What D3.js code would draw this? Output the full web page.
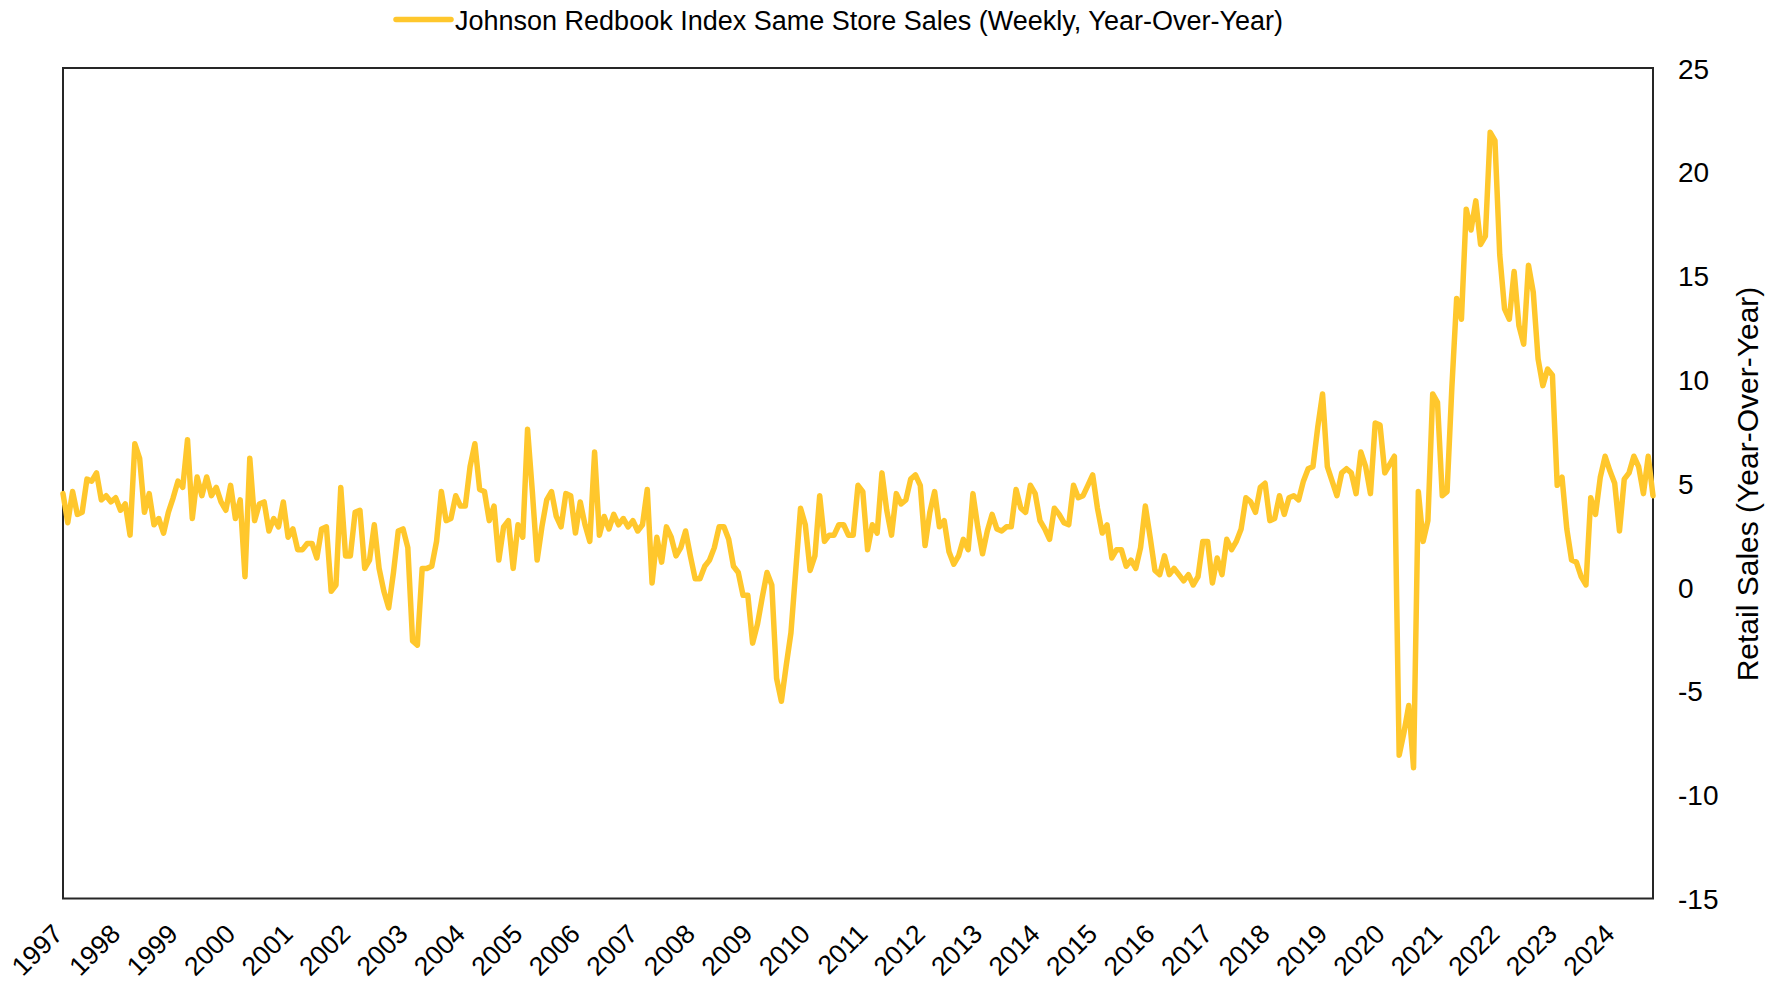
<!DOCTYPE html>
<html>
<head>
<meta charset="utf-8">
<script src="https://cdn.jsdelivr.net/npm/d3@7"></script>
<style>
  html, body { margin: 0; padding: 0; background: #ffffff; }
  svg { display: block; font-family: "Liberation Sans", Arial, Helvetica, sans-serif; }
</style>
</head>
<body>
<svg id="chart" width="1770" height="984"></svg>
<script>
// Monthly readings of the Johnson Redbook same-store sales index (YoY %), Jan 1997 onward
const seriesName = "Johnson Redbook Index Same Store Sales (Weekly, Year-Over-Year)";
const yearLabels = ["1997","1998","1999","2000","2001","2002","2003","2004","2005","2006",
  "2007","2008","2009","2010","2011","2012","2013","2014","2015","2016",
  "2017","2018","2019","2020","2021","2022","2023","2024"];
const yTickValues = [-15, -10, -5, 0, 5, 10, 15, 20, 25];
const yTitle = "Retail Sales (Year-Over-Year)";

const salesYoY = [
  4.5, 3.1, 4.6, 3.5, 3.6, 5.2, 5.1, 5.5, 4.2, 4.4, 4.1, 4.3,      // 1997
  3.7, 4.0, 2.5, 6.9, 6.2, 3.6, 4.5, 3.0, 3.3, 2.6, 3.6, 4.3,      // 1998
  5.1, 4.8, 7.1, 3.3, 5.3, 4.4, 5.3, 4.4, 4.8, 4.1, 3.7, 4.9,      // 1999
  3.3, 4.2, 0.5, 6.2, 3.2, 4.0, 4.1, 2.7, 3.3, 2.9, 4.1, 2.4,      // 2000
  2.8, 1.8, 1.8, 2.1, 2.1, 1.4, 2.8, 2.9, -0.2, 0.1, 4.8, 1.5,     // 2001
  1.5, 3.6, 3.7, 0.9, 1.3, 3.0, 0.9, -0.2, -1.0, 0.7, 2.7, 2.8,    // 2002
  1.9, -2.6, -2.8, 0.9, 0.9, 1.0, 2.2, 4.6, 3.2, 3.3, 4.4, 3.9,    // 2003
  3.9, 5.8, 6.9, 4.7, 4.6, 3.2, 3.9, 1.3, 2.9, 3.2, 0.9, 3.0,      // 2004
  2.4, 7.6, 4.6, 1.3, 2.9, 4.2, 4.6, 3.4, 2.9, 4.5, 4.4, 2.6,      // 2005
  4.1, 3.0, 2.2, 6.5, 2.5, 3.4, 2.8, 3.5, 3.0, 3.3, 2.9, 3.2,      // 2006
  2.7, 3.0, 4.7, 0.2, 2.4, 1.2, 2.9, 2.4, 1.5, 1.9, 2.7, 1.5,      // 2007
  0.4, 0.4, 1.0, 1.3, 1.9, 2.9, 2.9, 2.3, 1.0, 0.7, -0.4, -0.4,    // 2008
  -2.7, -1.8, -0.5, 0.7, 0.1, -4.4, -5.5, -3.8, -2.2, 0.8, 3.8, 3.0, // 2009
  0.8, 1.5, 4.4, 2.2, 2.5, 2.5, 3.0, 3.0, 2.5, 2.5, 4.9, 4.6,      // 2010
  1.8, 3.0, 2.6, 5.5, 3.7, 2.5, 4.5, 4.0, 4.2, 5.2, 5.4, 4.9,      // 2011
  2.0, 3.6, 4.6, 2.9, 3.2, 1.7, 1.1, 1.5, 2.3, 1.8, 4.5, 2.9,      // 2012
  1.6, 2.7, 3.5, 2.8, 2.7, 2.9, 2.9, 4.7, 3.8, 3.6, 4.9, 4.5,      // 2013
  3.2, 2.8, 2.3, 3.8, 3.5, 3.1, 3.0, 4.9, 4.3, 4.4, 4.9, 5.4,      // 2014
  3.8, 2.6, 3.0, 1.4, 1.8, 1.8, 1.0, 1.3, 0.9, 1.9, 3.9, 2.4,      // 2015
  0.8, 0.6, 1.5, 0.6, 0.9, 0.6, 0.3, 0.6, 0.1, 0.5, 2.2, 2.2,      // 2016
  0.2, 1.4, 0.6, 2.3, 1.8, 2.2, 2.8, 4.3, 4.1, 3.6, 4.8, 5.0,      // 2017
  3.2, 3.3, 4.4, 3.5, 4.3, 4.4, 4.2, 5.1, 5.7, 5.8, 7.7, 9.3,      // 2018
  5.8, 5.1, 4.4, 5.5, 5.7, 5.5, 4.5, 6.5, 5.8, 4.5, 7.9, 7.8,      // 2019
  5.5, 5.9, 6.3, -8.1, -7.0, -5.7, -8.7, 4.6, 2.2, 3.2, 9.3, 8.9,  // 2020
  4.4, 4.6, 9.6, 13.9, 12.9, 18.2, 17.2, 18.6, 16.5, 16.9, 21.9, 21.5, // 2021
  16.0, 13.4, 12.9, 15.2, 12.6, 11.7, 15.5, 14.2, 11.0, 9.7, 10.5, 10.2, // 2022
  4.9, 5.3, 2.8, 1.3, 1.2, 0.5, 0.1, 4.3, 3.5, 5.3, 6.3, 5.6,      // 2023
  5.0, 2.7, 5.2, 5.5, 6.3, 5.8, 4.5, 6.3, 4.4                      // 2024
];

const svg = d3.select("#chart");
const plot = { left: 63, right: 1653, top: 68, bottom: 898.5 };
const lineColor = "#FFC72C";

const x = d3.scaleLinear()
  .domain([0, salesYoY.length - 1])
  .range([plot.left, plot.right]);

const y = d3.scaleLinear()
  .domain([d3.min(yTickValues), d3.max(yTickValues)])
  .range([plot.bottom, plot.top]);

// Plot frame
svg.append("rect")
  .attr("x", plot.left)
  .attr("y", plot.top)
  .attr("width", plot.right - plot.left)
  .attr("height", plot.bottom - plot.top)
  .attr("fill", "none")
  .attr("stroke", "#262626")
  .attr("stroke-width", 2);

// Year labels on the bottom, one per January
const xAxis = d3.axisBottom(x)
  .tickValues(yearLabels.map((_, k) => k * 12))
  .tickSize(0)
  .tickFormat(i => yearLabels[i / 12]);

const gx = svg.append("g")
  .attr("transform", `translate(0,${plot.bottom})`)
  .call(xAxis);
gx.select(".domain").remove();
gx.selectAll("text")
  .attr("y", 0)
  .attr("dy", 0)
  .attr("transform", "translate(1,37) rotate(-45)")
  .style("text-anchor", "end")
  .style("font-size", "26.5px")
  .attr("fill", "#000");

// Value axis on the right (plain hyphen for negatives)
const yAxis = d3.axisRight(y)
  .tickValues(yTickValues)
  .tickSize(0)
  .tickPadding(25)
  .tickFormat(d => String(d));

const gy = svg.append("g")
  .attr("transform", `translate(${plot.right},0)`)
  .call(yAxis);
gy.select(".domain").remove();
gy.selectAll("text")
  .attr("dy", "0.36em")
  .style("font-size", "28px")
  .attr("fill", "#000");

svg.append("text")
  .attr("transform", "translate(1758,484) rotate(-90)")
  .attr("text-anchor", "middle")
  .style("font-size", "30px")
  .attr("fill", "#000")
  .text(yTitle);

// Series line
const line = d3.line()
  .x((d, i) => x(i))
  .y(d => y(d));

svg.append("path")
  .datum(salesYoY)
  .attr("d", line)
  .attr("fill", "none")
  .attr("stroke", lineColor)
  .attr("stroke-width", 5.5)
  .attr("stroke-linejoin", "round")
  .attr("stroke-linecap", "round");

// Legend
const legend = svg.append("g").attr("transform", "translate(396,19.5)");
legend.append("line")
  .attr("x1", 0).attr("x2", 55)
  .attr("y1", 0).attr("y2", 0)
  .attr("stroke", lineColor)
  .attr("stroke-width", 5.5)
  .attr("stroke-linecap", "round");
legend.append("text")
  .attr("x", 59)
  .attr("y", 10)
  .style("font-size", "27px")
  .attr("fill", "#000")
  .text(seriesName);
</script>
</body>
</html>
